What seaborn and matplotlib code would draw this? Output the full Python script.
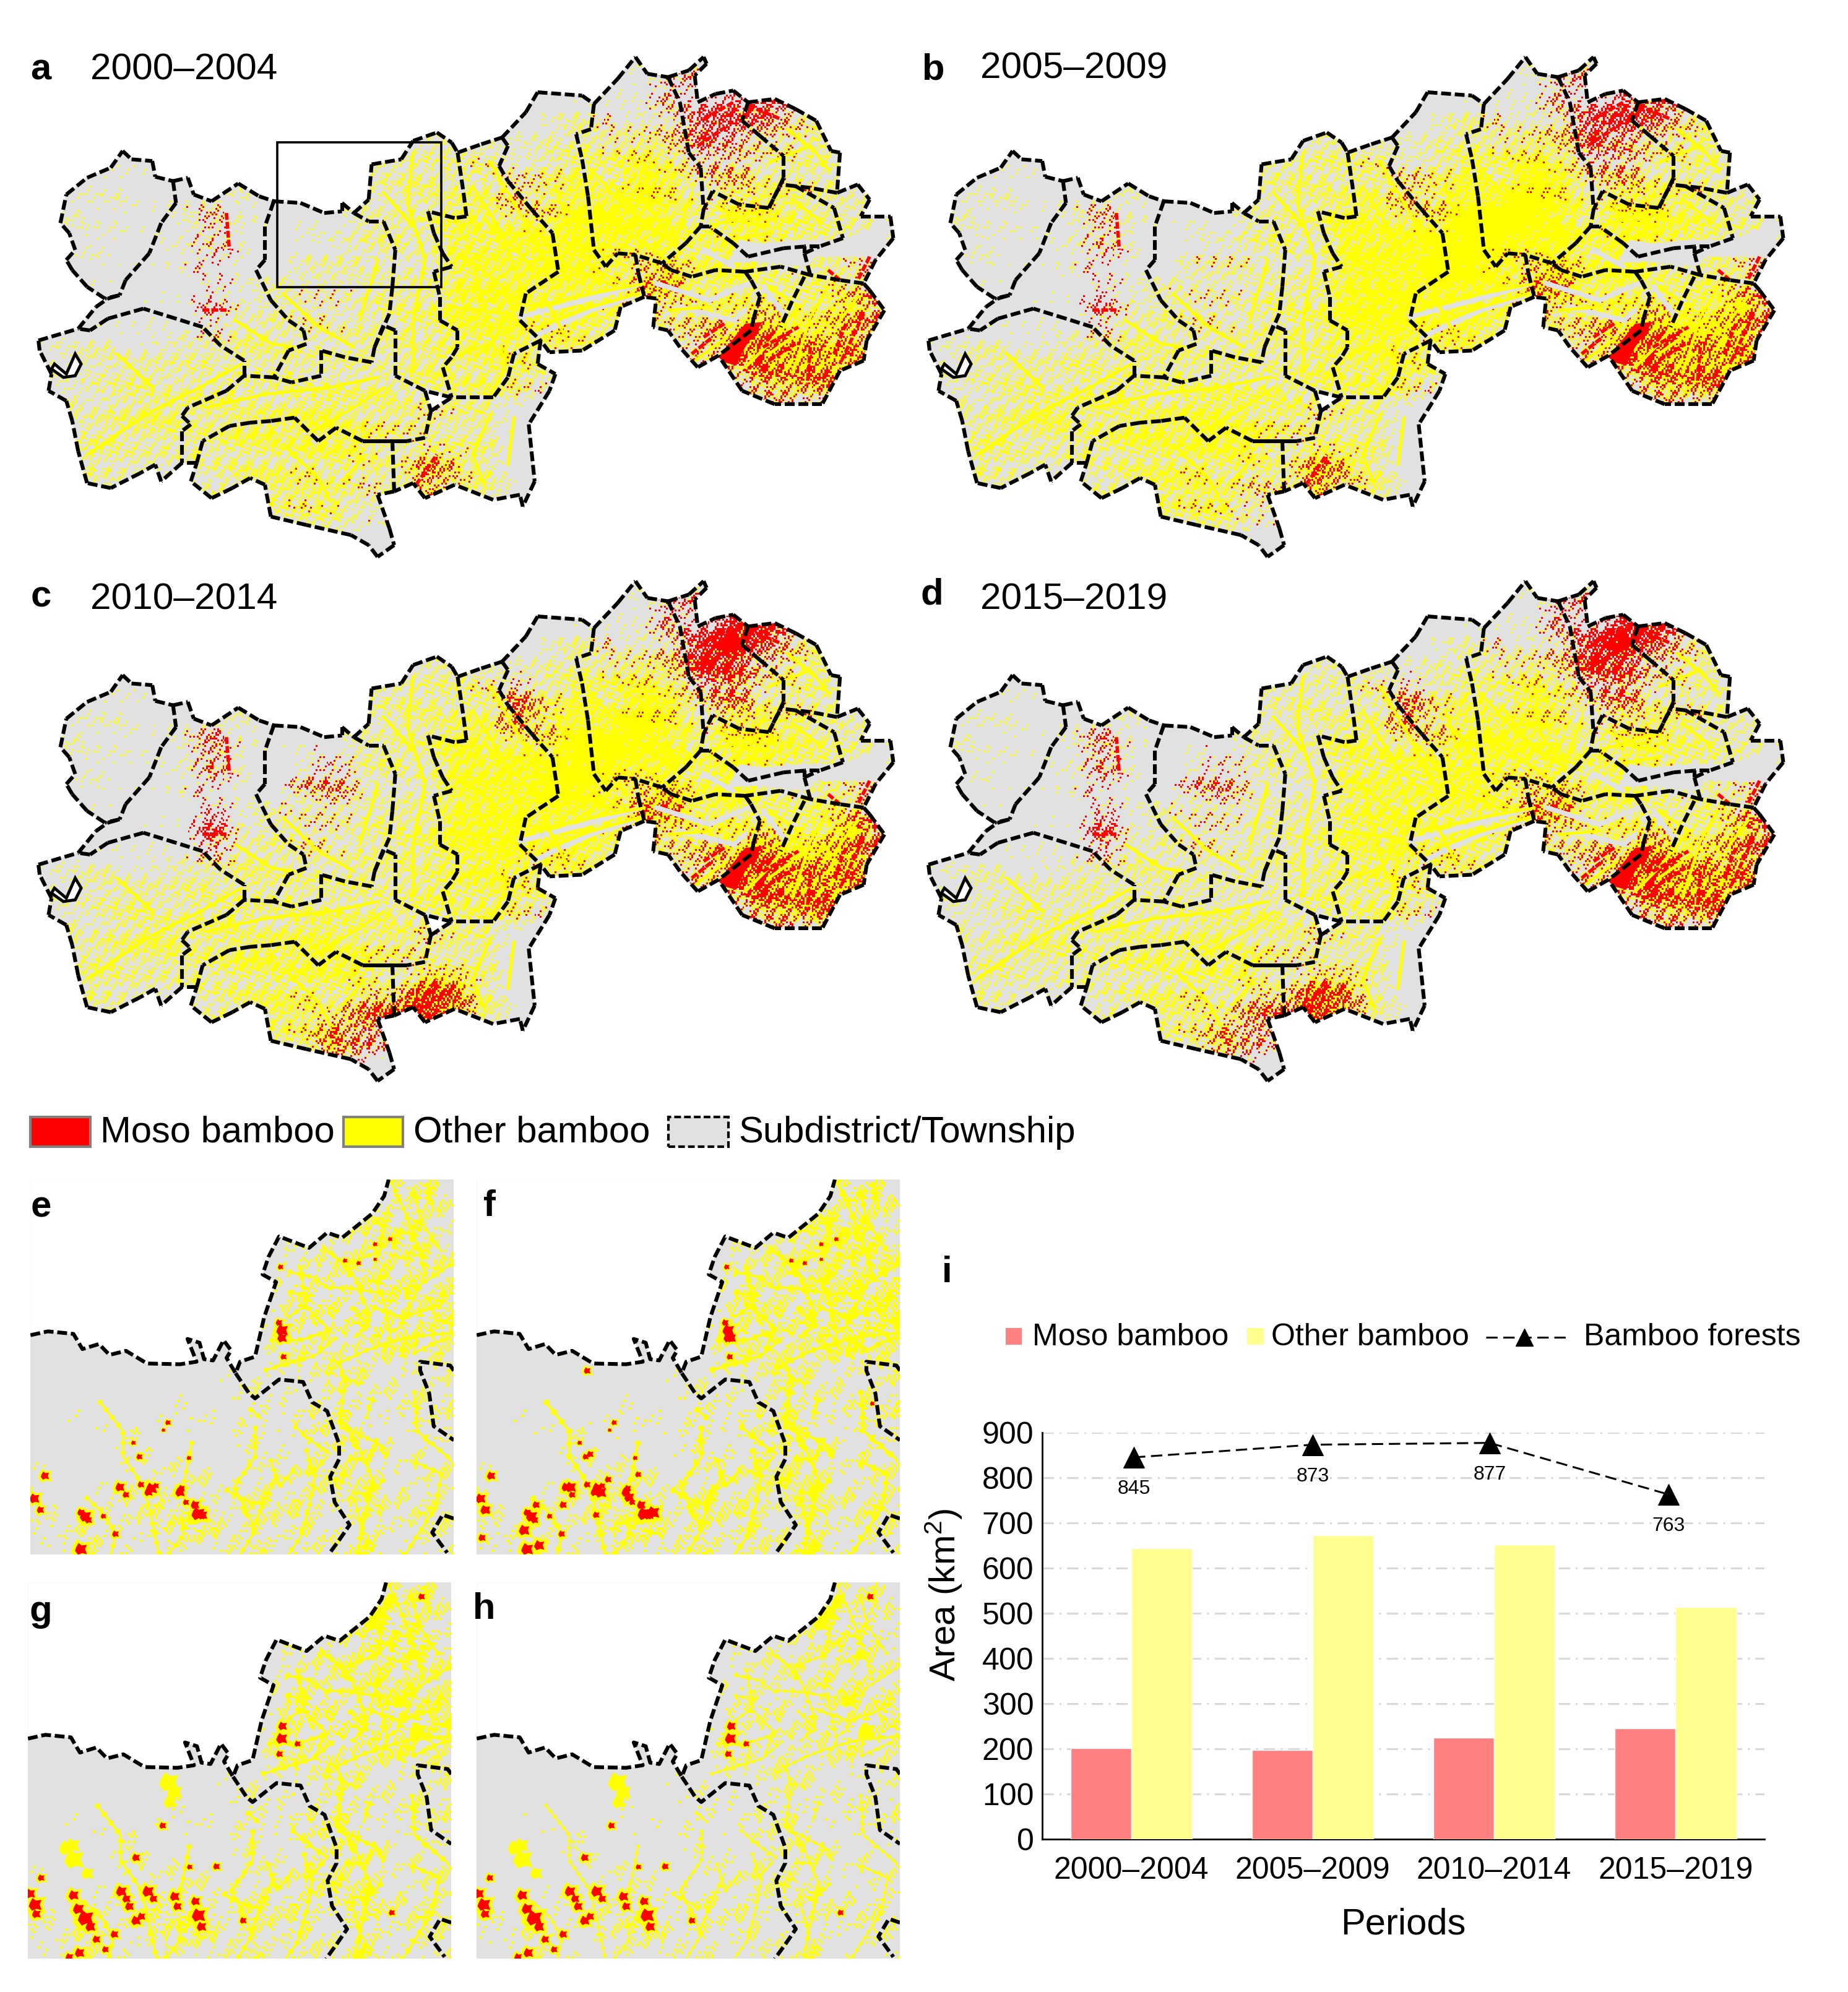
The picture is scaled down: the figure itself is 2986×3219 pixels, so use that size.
import matplotlib
matplotlib.use("Agg")
import matplotlib.pyplot as plt
from matplotlib.patches import Polygon, Rectangle, PathPatch
from matplotlib.path import Path
from matplotlib.lines import Line2D
import numpy as np
import pandas as pd
import seaborn as sns

sns.set_theme(style="white")
plt.rcParams["font.family"] = ["Liberation Sans", "DejaVu Sans"]
plt.rcParams["mathtext.fontset"] = "custom"
plt.rcParams["mathtext.rm"] = "Liberation Sans"

# ---------------- chart data ----------------
PERIODS = ["2000–2004", "2005–2009", "2010–2014", "2015–2019"]
MOSO = [202, 197, 225, 245]
OTHER = [644, 672, 652, 514]
TOTAL = [845, 873, 877, 763]
TOTAL_X = [0.015, 0.0, -0.025, -0.04]
Y_TICKS = [0, 100, 200, 300, 400, 500, 600, 700, 800, 900]

# ---------------- map data (traced map units) ----------------
TOWNSHIPS = [
 [(210,295),(225,320),(260,325),(265,372),(295,385),(300,450),(275,510),(255,600),(215,680),(205,725),(180,735),(150,700),(125,650),(115,620),(130,590),(120,540),(105,510),(115,425),(150,375),(190,345)],
 [(295,385),(320,375),(330,425),(360,445),(405,392),(440,430),(465,445),(450,520),(450,620),(435,650),(460,740),(490,800),(515,830),(520,870),(490,890),(465,970),(415,965),(415,920),(375,875),(345,820),(300,795),(245,765),(185,795),(155,830),(135,825),(165,760),(185,735),(205,725),(215,680),(255,600),(275,510),(300,450)],
 [(68,860),(135,825),(155,830),(185,795),(245,765),(300,795),(345,820),(375,875),(415,920),(415,965),(385,1010),(320,1060),(310,1085),(325,1110),(310,1130),(310,1225),(275,1280),(265,1230),(240,1255),(190,1300),(150,1285),(135,1190),(125,1100),(115,1040),(85,1010),(90,960),(70,890)],
 [(465,445),(510,450),(550,480),(580,475),(580,450),(600,480),(625,505),(650,505),(670,590),(665,700),(660,780),(635,880),(630,925),(585,910),(545,890),(545,965),(495,985),(465,970),(490,890),(520,870),(515,830),(490,800),(460,740),(435,650),(450,620),(450,520)],
 [(740,240),(765,270),(775,300),(785,420),(790,490),(770,495),(725,475),(735,540),(750,600),(765,640),(735,655),(745,730),(745,800),(775,830),(775,880),(765,910),(750,940),(765,1030),(720,1010),(670,965),(670,830),(650,815),(635,880),(660,780),(665,700),(670,590),(650,505),(625,505),(600,480),(625,440),(630,335),(680,320),(700,265)],
 [(775,300),(815,275),(850,255),(860,280),(845,340),(860,385),(900,470),(935,540),(945,655),(890,720),(880,800),(915,860),(870,900),(860,970),(835,1030),(765,1030),(750,940),(765,910),(775,880),(775,830),(745,800),(745,730),(735,655),(765,640),(750,600),(735,540),(725,475),(770,495),(790,490),(785,420)],
 [(415,965),(465,970),(495,985),(545,965),(545,890),(585,910),(630,925),(635,880),(650,815),(670,830),(670,965),(720,1010),(730,1070),(720,1150),(690,1160),(615,1160),(570,1120),(540,1160),(500,1090),(460,1100),(425,1105),(390,1115),(345,1160),(335,1225),(310,1225),(310,1130),(325,1110),(310,1085),(320,1060),(385,1010)],
 [(345,1160),(390,1115),(425,1105),(460,1100),(500,1090),(540,1160),(570,1120),(615,1160),(665,1160),(668,1310),(640,1320),(660,1420),(668,1470),(640,1505),(625,1470),(595,1440),(520,1410),(460,1385),(450,1290),(425,1270),(395,1300),(360,1330),(325,1280),(335,1225)],
 [(720,1150),(730,1070),(765,1030),(835,1030),(860,970),(870,900),(915,860),(910,930),(940,960),(930,1010),(895,1110),(905,1280),(885,1355),(880,1320),(835,1335),(770,1290),(720,1330),(700,1285),(668,1310),(665,1160),(690,1160)],
 [(850,255),(890,180),(910,120),(985,130),(1005,155),(1000,230),(975,245),(985,320),(995,430),(1005,590),(1025,640),(1045,600),(1075,605),(1080,660),(1090,730),(1050,760),(1040,830),(985,890),(930,895),(915,860),(880,800),(890,720),(945,655),(935,540),(900,470),(860,385),(845,340),(860,280)],
 [(1005,155),(1045,80),(1075,15),(1095,65),(1130,75),(1150,150),(1165,300),(1185,345),(1190,470),(1185,520),(1160,570),(1120,630),(1075,605),(1045,600),(1025,640),(1005,590),(995,430),(985,320),(975,245),(1000,230)],
 [(1130,75),(1165,55),(1190,15),(1195,35),(1175,70),(1180,150),(1210,125),(1240,115),(1265,150),(1255,205),(1285,250),(1325,310),(1325,375),(1300,465),(1250,455),(1205,415),(1190,470),(1185,345),(1165,300),(1150,150)],
 [(1265,150),(1310,140),(1345,170),(1380,205),(1405,295),(1420,300),(1415,420),(1370,405),(1345,400),(1320,395),(1325,375),(1325,310),(1285,250),(1255,205)],
 [(1190,470),(1205,415),(1250,455),(1300,465),(1320,395),(1345,400),(1410,465),(1425,555),(1385,580),(1360,580),(1325,585),(1265,610),(1240,570),(1200,520),(1185,520)],
 [(1415,420),(1450,395),(1470,440),(1455,490),(1505,490),(1510,555),(1480,620),(1460,690),(1420,680),(1370,665),(1360,600),(1385,580),(1425,555),(1410,465),(1345,400),(1370,405)],
 [(1185,520),(1200,520),(1240,570),(1265,610),(1325,585),(1360,580),(1360,600),(1370,665),(1320,640),(1260,655),(1210,650),(1170,670),(1135,650),(1120,630),(1160,570)],
 [(1075,605),(1120,630),(1135,650),(1170,670),(1210,650),(1260,655),(1270,680),(1285,730),(1275,790),(1270,830),(1215,905),(1180,940),(1150,880),(1130,830),(1105,820),(1110,735),(1090,730),(1080,660)],
 [(1270,680),(1260,655),(1320,640),(1370,665),(1420,680),(1460,690),(1470,710),(1495,770),(1465,860),(1460,920),(1420,950),(1390,1050),(1310,1050),(1255,1010),(1215,905),(1270,830),(1275,790),(1285,730)],
]
INNER_LINE = [(1360,670),(1340,740),(1320,820)]
LAKE = [(95,930),(115,960),(130,900),(140,930),(130,965),(110,970),(90,945)]
GREY_TOWNSHIP = [(1250,560),(1290,570),(1350,560),(1420,560),(1500,510),(1505,540),(1470,610),(1380,610),(1360,640),(1280,625),(1230,630)]
GREY_RIVERS = [
 [(880,790),(1000,735),(1085,690)],[(900,850),(1000,770),(1070,730)],[(1110,690),(1200,740),(1265,690)],
 [(1190,590),(1240,640)],[(1290,700),(1330,790)],[(1150,760),(1240,800),(1260,770)],
]

# bamboo cover per coarse map cell, 0 (none) to 9 (full); 32 columns, 24 rows
YELLOW_COVER = [
 "00000 00000 00000 00000 01010 00000 00",
 "00000 00000 00000 00000 02220 00000 00",
 "00000 00000 00000 00012 22201 11200 00",
 "00000 00000 00003 21124 34412 35600 00",
 "00000 00000 00005 53246 56623 45640 00",
 "00011 10100 00455 55357 68734 55530 00",
 "00122 10230 00445 66568 79846 76532 00",
 "00222 12330 01455 77679 99858 87543 00",
 "00221 13320 22555 87889 98868 87642 00",
 "00121 12220 33444 88899 87878 66541 00",
 "00110 01113 44344 88898 86878 65652 00",
 "00000 11134 44466 88888 77677 67773 00",
 "00111 11345 44556 88888 66567 78874 00",
 "01233 34455 54556 77777 50456 78873 00",
 "01344 45555 55556 77766 00034 67763 00",
 "01345 55665 66566 66500 00003 56650 00",
 "00346 76667 77665 54000 00000 00000 00",
 "00355 56677 88855 55000 00000 00000 00",
 "00565 44566 66657 75000 00000 00000 00",
 "00442 44467 76556 66000 00000 00000 00",
 "00000 02456 66446 55000 00000 00000 00",
 "00000 00034 55200 00000 00000 00000 00",
 "00000 00000 33000 00000 00000 00000 00",
 "00000 00000 00000 00000 00000 00000 00",
]
RED_COVER = [
 "00000 00000 00000 00000 00000 00000 00",
 "00000 00000 00000 00000 00330 00000 00",
 "00000 00000 00000 00000 00335 78720 00",
 "00000 00000 00000 00000 10267 52000 00",
 "00000 00000 00000 00000 11254 21000 00",
 "00000 00000 00000 01100 01133 11000 00",
 "00000 00000 00000 00320 01113 11000 00",
 "00000 00200 00000 00220 00001 10000 00",
 "00000 00300 00000 00000 00001 10000 00",
 "00000 00300 00000 00000 11100 01011 00",
 "00000 00100 00000 00000 04500 00023 00",
 "00000 00300 11000 00000 04311 11155 00",
 "00000 00300 11000 00011 01123 61244 00",
 "00000 00000 00000 00111 00233 85456 00",
 "00000 00000 00000 00110 00023 75645 00",
 "00000 00000 00000 00100 00002 34550 00",
 "00000 00000 00002 00000 00000 00000 00",
 "00000 00000 00110 00000 00000 00000 00",
 "00000 00000 00104 20000 00000 00000 00",
 "00000 00000 10105 20000 00000 00000 00",
 "00000 00000 10105 00000 00000 00000 00",
 "00000 00000 00000 00000 00000 00000 00",
 "00000 00000 00000 00000 00000 00000 00",
 "00000 00000 00000 00000 00000 00000 00",
]
RED_LATE_COVER = [
 "00000 00000 00000 00000 00000 00000 00",
 "00000 00000 00000 00000 00000 00000 00",
 "00000 00000 00000 00000 00002 20000 00",
 "00000 00000 00000 00000 00013 00000 00",
 "00000 00000 00000 00000 00023 00000 00",
 "00000 00000 00000 00300 00002 00000 00",
 "00000 00000 00000 00300 00000 00000 00",
 "00000 00100 00000 00000 00000 00000 00",
 "00000 00100 01000 00000 00000 00000 00",
 "00000 00000 34000 00000 00000 00000 00",
 "00000 00000 12000 00000 00000 00000 00",
 "00000 00200 00000 00000 00000 00000 00",
 "00000 00100 00000 00000 00000 00000 00",
 "00000 00000 00000 00000 00000 00000 00",
 "00000 00000 00000 00000 00000 00000 00",
 "00000 00000 00000 00000 00000 00000 00",
 "00000 00000 00000 00000 00000 00000 00",
 "00000 00000 00000 00000 00000 00000 00",
 "00000 00000 00001 30000 00000 00000 00",
 "00000 00000 00464 30000 00000 00000 00",
 "00000 00000 04451 20000 00000 00000 00",
 "00000 00000 05300 00000 00000 00000 00",
 "00000 00000 02000 00000 00000 00000 00",
 "00000 00000 00000 00000 00000 00000 00",
]
YELLOW_LEVEL = {"a": 0.9, "b": 1.05, "c": 1.0, "d": 0.8}
RED_LEVEL = {"a": 0.85, "b": 0.9, "c": 1.0, "d": 1.0}
LATE_LEVEL = {"a": 0.0, "b": 0.15, "c": 1.0, "d": 0.85}

STREAKS = [
 [(1000,350),(1060,470),(1130,560)],[(1090,330),(1100,470),(1140,580)],[(1170,420),(1150,520),(1130,590)],
 [(1010,480),(1080,560),(1120,610)],[(1040,400),(1090,520)],[(940,400),(960,520),(1000,640),(1060,700)],
 [(890,500),(960,640),(1040,700)],[(800,400),(850,540),(880,700),(860,830)],[(830,330),(880,480),(920,620)],
 [(780,600),(850,700),(870,780)],[(760,760),(860,780),(885,820)],[(860,830),(850,960),(830,1020)],
 [(780,900),(830,870),(860,790)],[(900,760),(1000,720),(1090,690)],[(910,820),(1000,760),(1080,720)],
 [(1130,770),(1200,760)],[(1230,500),(1300,520)],[(1210,460),(1260,500)],[(1300,330),(1370,280),(1400,350)],
 [(1330,230),(1380,300)],[(1340,440),(1390,510)],[(1300,700),(1350,760),(1300,870),(1260,940)],
 [(1340,850),(1300,900)],[(1400,700),(1370,790),(1340,960)],[(1450,730),(1420,800)],[(1230,850),(1190,900),(1170,930)],
 [(350,1060),(450,1020),(560,1000),(640,970)],[(530,1130),(600,1060),(650,1000)],[(150,1200),(260,1070),(340,1000),(410,930)],
 [(200,900),(260,1000)],[(400,800),(460,870),(500,880)],[(480,720),(540,820),(600,880)],[(640,620),(610,800)],
 [(700,300),(690,450),(720,620),(700,800),(700,950)],[(650,420),(700,520)],[(480,1170),(540,1270),(560,1340)],
 [(620,1200),(580,1280)],[(830,1080),(800,1200),(820,1290)],[(870,1090),(860,1230)],[(1050,440),(1120,440)],
 [(950,450),(1000,560)],[(820,500),(900,640)],[(1060,500),(1130,500)],[(1000,590),(1060,640)],[(800,620),(840,900)],
 [(930,760),(960,860)],[(1200,520),(1290,470)],[(1230,560),(1300,540)],
]
RED_SOLID = [
 [(1215,910),(1260,810),(1290,805),(1260,880),(1245,935),(1225,925)],
]
RED_STROKES = [
 [(1290,880),(1350,820)],[(1300,920),(1345,870)],[(1370,880),(1365,990)],[(1430,810),(1410,900)],[(1460,780),(1420,930)],
 [(1190,850),(1225,810)],[(1170,900),(1205,850)],[(1400,650),(1420,680)],[(1470,610),(1450,680)],[(1265,160),(1320,200)],
 [(705,1290),(740,1200)],[(385,480),(390,590)],[(345,770),(385,770)],[(1190,200),(1240,150)],[(1180,280),(1230,220)],
]

# inset data (traced inset units)
COAST = [(102,630),(160,615),(245,625),(275,685),(330,665),(365,708),(420,692),(490,742),(600,745),(655,735),(625,645),(665,660),(680,725),(710,730),(745,650),(770,690),(755,720),(785,780),(800,735),(850,715),(880,560),(920,420),(875,390),(895,320),(930,240),(1030,285),(1090,225),(1140,245),(1240,150),(1280,80),(1295,15)]
BORDERS = [
 [(785,780),(830,860),(850,880),(930,805),(1010,815),(1040,895),(1090,930),(1130,1060),(1130,1120),(1100,1190),(1115,1290),(1165,1380),(1130,1440),(1095,1497)],
 [(1512,770),(1500,750),(1400,735),(1400,770),(1430,860),(1445,990),(1512,1045)],
 [(1512,1355),(1475,1340),(1440,1410),(1490,1490)],
]
INSET_COVER = [
 "0000000000000342",
 "0000000000002453",
 "0000000000245543",
 "0000000002356654",
 "0000000003435655",
 "0000000003534546",
 "0000000005443666",
 "0000000005454535",
 "0000000122253224",
 "0010010131242233",
 "0010211032443232",
 "0101221131354232",
 "2001223133455233",
 "2122343253436244",
 "2133345252425233",
 "2242232252436233",
]
INSET_LEVEL = {"e": 0.95, "f": 1.2, "g": 1.05, "h": 0.7}
INSET_STREAKS = [
 [(1100,300),(1180,400),(1220,520),(1230,600)],[(1300,20),(1340,120),(1380,240),(1420,400)],[(1500,350),(1400,430),(1330,600),(1300,620)],
 [(1100,440),(1200,450),(1300,470)],[(1000,360),(1020,510),(960,560)],[(960,460),(1000,470)],[(1420,30),(1440,120)],
 [(1510,620),(1350,640),(1220,690),(1130,740),(1150,820),(1130,960),(1190,1060),(1240,1200),(1215,1350),(1190,1497)],
 [(1430,480),(1450,560)],[(1270,450),(1300,640),(1270,700)],[(880,770),(1050,710),(1120,640)],[(900,650),(1000,650),(1100,610)],
 [(330,890),(410,1010),(410,1110),(480,1230),(530,1497)],[(640,1050),(615,1200),(600,1250)],[(850,990),(850,1110),(780,1230),(850,1400),(800,1497)],
 [(830,920),(870,960)],[(980,990),(1040,1050),(1100,1100)],[(920,1180),(880,1280),(840,1400)],[(1050,1180),(1030,1310),(1000,1430),(960,1497)],
 [(1380,850),(1390,1010),(1500,1120)],[(1380,1130),(1470,1180),(1450,1310),(1350,1497)],[(1240,880),(1220,960)],[(560,1497),(610,1420),(600,1340)],
 [(285,1270),(350,1340),(385,1420),(370,1497)],[(750,1240),(850,1300)],[(1250,1040),(1290,1110)],[(1160,1120),(1230,1120)],
 [(1080,290),(1150,350),(1260,300),(1340,210)],[(1200,120),(1280,200),(1260,320)],[(1380,60),(1400,180),(1470,300)],[(1020,520),(1090,600),(1060,700)],
 [(1240,520),(1340,560),(1440,520)],[(960,380),(1040,400),(1100,450)],[(1170,520),(1230,590),(1180,640)],[(1390,620),(1380,700),(1490,640)],
 [(1160,1000),(1260,1060),(1230,1110)],[(1280,1200),(1230,1260)],[(1180,1280),(1210,1420)],[(1020,1080),(1040,1180),(1090,1110)],[(900,1120),(930,1230),(980,1160)],
]
E_RED_X = [560,445,465,150,115,135,285,400,505,600,660,940,935,945,270,345,385,630,1300,1150,1195,1250,1250,545,620,420,470,495,520,605,650,675,270,295,940,930]
E_RED_Y = [975,1055,1110,1185,1275,1320,1345,1230,1235,1250,1335,610,360,715,1475,1345,1415,1115,250,335,345,330,270,1005,1290,1260,1220,1250,1225,1235,1300,1340,1330,1360,640,580]
E_RED_S = [ 40, 30, 50, 90, 130, 70, 170, 110, 170, 120, 230, 180, 40, 50, 190, 40, 60, 30, 30, 30, 30, 20, 30, 20, 50, 60, 60, 90, 50, 60,100,120, 70, 70,120, 60]
F_RED_X = [470,950,415,515,610,690,130,260,310,480,1420,390,540,500,640,120,300]
F_RED_Y = [770,640,1230,1250,1270,1330,1320,1400,1460,1100,900,1300,1200,1340,1180,1430,1300]
F_RED_S = [ 60,120, 150, 170, 130, 200, 120, 150, 140, 60,  30, 70, 60, 60, 50, 70, 70]
G_RED_X = [126,294,254,413,502,462,551,670,591,462,819,1314,730,947,146,274,641,1413,330,440,110,130,270,310,390,430,520,480,600,660,680,360,240,950,940,1000]
G_RED_Y = [1283,1336,1246,1231,1231,1098,972,1325,1251,1346,1346,1315,1133,629,1178,1473,1135,70,1420,1290,1240,1320,1300,1370,1400,1260,1260,1330,1290,1270,1370,1460,1490,580,690,650]
G_RED_S = [ 220,320,130,150,170,80, 60,240,120,120, 60, 50, 60,160, 60,120, 40, 60, 80,100,120,100,160,130, 80, 90, 80, 80, 90,100,120, 60, 80,100, 60, 50]
G_YEL_X = [571,575,255,250,1274,1250,1310,1340,1380,1400,300,590,230,1300,1250]
G_YEL_Y = [800,880,1104,1050,133,180,80,480,300,600,1160,840,1060,100,160]
G_YEL_S = [ 500,220,500,280,400,240,200,300,200,400,200,300,300,200,200]

# ---------------- layout helpers ----------------
W, H = 2986, 3219
SC = 2.054
fig = plt.figure(figsize=(W / 100, H / 100), dpi=100, facecolor="white")
GREY = "#e1e1e1"
DASH = (0, (2.6, 1.0))
BLOB = [(-1,-.3),(-.5,-1),(.2,-.7),(1,-.9),(.7,0),(1,.7),(.1,.6),(-.4,1),(-.8,.3)]

def fx(d):
    return d * SC / W

def fy(d):
    return 1 - d * SC / H

def axes_px(left, top, width, height):
    return fig.add_axes([left / W, 1 - (top + height) / H, width / W, height / H])

def cover(rows):
    return np.array([[int(c) for c in r.replace(" ", "")] for r in rows], dtype=float) / 9

def upsample(grid, rows, cols):
    gy = np.linspace(0, grid.shape[0] - 1, rows)
    gx = np.linspace(0, grid.shape[1] - 1, cols)
    by_col = np.array([np.interp(gy, np.arange(grid.shape[0]), grid[:, c]) for c in range(grid.shape[1])])
    return np.array([np.interp(gx, np.arange(grid.shape[1]), by_col[:, r]) for r in range(rows)])

def gradient_pattern(xx, yy):
    return (52.9829189 * ((0.06711056 * xx + 0.00583715 * yy) % 1)) % 1

def threshold(rows, cols, u_size, v_size):
    """Ordered-dither thresholds: a fine pattern mixed with elongated blocks, so cells clump."""
    yy, xx = np.mgrid[0:rows, 0:cols]
    fine = gradient_pattern(xx, yy)
    coarse = gradient_pattern(np.floor((xx + 0.7 * yy) / u_size), np.floor((xx - 0.7 * yy) / v_size))
    t = 0.5 * fine + 0.5 * coarse
    return np.where(t < 0.5, 2 * t ** 2, 1 - 2 * (1 - t) ** 2)

def speckle(yellow, red, u_size=3, v_size=8):
    t = threshold(*yellow.shape, u_size, v_size)
    img = np.zeros(yellow.shape + (4,))
    img[t < np.clip(red + yellow, 0, 1)] = (1, 1, 0, 1)
    img[t < np.clip(red, 0, 1)] = (1, 0, 0, 1)
    return img

TOWN_PATH = Path.make_compound_path(*[Path(list(t) + [t[0]], closed=True) for t in TOWNSHIPS])

def draw_map(left, top, key):
    ax = axes_px(left, top, 1502, 850)
    ax.axis("off")
    ax.patch.set_alpha(0)
    clip = PathPatch(TOWN_PATH, transform=ax.transData, fc="none", ec="none")
    for t in TOWNSHIPS:
        ax.add_patch(Polygon(t, closed=True, fc=GREY, ec=GREY, lw=1, zorder=1))
    rows, cols = 282, 520
    yel = upsample(cover(YELLOW_COVER), rows, cols) ** 1.8 * YELLOW_LEVEL[key]
    red = upsample(cover(RED_COVER) * RED_LEVEL[key] + cover(RED_LATE_COVER) * LATE_LEVEL[key], rows, cols) ** 1.3
    im = ax.imshow(speckle(yel, red), extent=(0, 1600, 1560, 0), aspect="auto", interpolation="nearest", zorder=2)
    im.set_clip_path(clip)
    ax.add_patch(Polygon(GREY_TOWNSHIP, closed=True, fc=GREY, ec="none", zorder=2.5))
    for s in GREY_RIVERS:
        xs, ys = zip(*s)
        ax.plot(xs, ys, color=GREY, lw=6, zorder=2.6)
    for s in STREAKS:
        xs, ys = zip(*s)
        line, = ax.plot(xs, ys, color="#ffff00", lw=3.6, zorder=3)
        line.set_clip_path(clip)
    for s in RED_STROKES:
        xs, ys = zip(*s)
        line, = ax.plot(xs, ys, color="#ff0000", lw=4, ls=(0, (2.0, 0.6)), zorder=3.5)
        line.set_clip_path(clip)
    for r in RED_SOLID:
        ax.add_patch(Polygon(r, closed=True, fc="#ff0000", ec="none", zorder=4))
    seen = set()
    for t in TOWNSHIPS:
        for p, q in zip(t, t[1:] + t[:1]):
            k = frozenset((p, q))
            if k in seen:
                continue
            seen.add(k)
            ax.plot([p[0], q[0]], [p[1], q[1]], color="black", lw=4.4, ls=DASH, zorder=5)
    xs, ys = zip(*INNER_LINE)
    ax.plot(xs, ys, color="black", lw=4.4, ls=DASH, zorder=5)
    ax.add_patch(Polygon(LAKE, closed=True, fc="white", ec="black", lw=3.5, zorder=6))
    ax.set_xlim(0, 1568)
    ax.set_ylim(1568, 0)

def draw_inset(l, t, r, b, key):
    ax = axes_px(l * SC, t * SC, (r - l) * SC, (b - t) * SC)
    ax.set_facecolor(GREY)
    for sp in ax.spines.values():
        sp.set_visible(False)
    level = INSET_LEVEL[key]
    rows, cols = 150, 170
    yel = upsample(cover(INSET_COVER), rows, cols) ** 1.6 * level
    ax.imshow(speckle(yel, np.zeros_like(yel), 5, 9), extent=(102, 1512, 1497, 15), aspect="auto", interpolation="nearest", zorder=1)
    for s in INSET_STREAKS:
        xs, ys = zip(*s)
        ax.plot(xs, ys, color="#ffff00", lw=2.4 * level, zorder=2)
        ax.plot(xs, ys, color="#ffff00", lw=6 * level, ls=(0, (0.6, 1.4)), zorder=2)
    if key in ("g", "h"):
        rx, ry, rs = G_RED_X, G_RED_Y, G_RED_S
        ax.scatter(G_YEL_X, G_YEL_Y, s=G_YEL_S, color="#ffff00", marker=BLOB, lw=0, zorder=2)
    elif key == "f":
        rx, ry, rs = E_RED_X + F_RED_X, E_RED_Y + F_RED_Y, E_RED_S + F_RED_S
    else:
        rx, ry, rs = E_RED_X, E_RED_Y, E_RED_S
    ax.scatter(rx, ry, s=[v * 3 for v in rs], color="#ffff00", marker=BLOB[::-1], lw=0, zorder=2.5)
    ax.scatter(rx, ry, s=rs, color="#ff0000", marker=BLOB, lw=0, zorder=3)
    ax.add_patch(Polygon([(102, 15)] + COAST, closed=True, fc="white", ec="none", zorder=4))
    for seq in [COAST] + BORDERS:
        xs, ys = zip(*seq)
        ax.plot(xs, ys, color="black", lw=4.4, ls=DASH, zorder=5)
    ax.set_xlim(102, 1512)
    ax.set_ylim(1497, 15)
    ax.set_xticks([])
    ax.set_yticks([])

# ---------------- panels a-d ----------------
draw_map(-3, 84, "a")
draw_map(1435, 84, "b")
draw_map(-3, 931, "c")
draw_map(1435, 931, "d")
fig.add_artist(Rectangle((fx(218), fy(226)), 129 * SC / W, 114 * SC / H, transform=fig.transFigure,
                         fc="none", ec="black", lw=2.6, zorder=10))

for letter, x, y in [("a", 24, 55), ("b", 725, 55), ("c", 24, 470), ("d", 724, 468), ("e", 24, 950),
                     ("f", 380, 949), ("g", 23, 1268), ("h", 372, 1266), ("i", 741, 1001)]:
    fig.text(fx(x), fy(y), letter, fontsize=43, fontweight="bold", ha="left", va="center", color="black", zorder=11)
for title, x, y in [("2000–2004", 71, 55), ("2005–2009", 771, 54), ("2010–2014", 71, 472), ("2015–2019", 771, 472)]:
    fig.text(fx(x), fy(y), title, fontsize=43.5, ha="left", va="center", color="black", zorder=11)

# map legend
for x, fc, ec, ls, lab, tx in [(24, "#ff0000", "#808080", "-", "Moso bamboo", 79),
                               (270, "#ffff00", "#808080", "-", "Other bamboo", 325),
                               (526, GREY, "black", (0, (2.6, 1.2)), "Subdistrict/Township", 581)]:
    fig.add_artist(Rectangle((fx(x), fy(902)), 47 * SC / W, 23 * SC / H, transform=fig.transFigure,
                             fc=fc, ec=ec, lw=3, ls=ls))
    fig.text(fx(tx), fy(891), lab, fontsize=43, ha="left", va="center", color="black")

# ---------------- insets e-h ----------------
draw_inset(24, 928, 357, 1223, "e")
draw_inset(375, 928, 708, 1223, "f")
draw_inset(22, 1245, 355, 1541, "g")
draw_inset(375, 1245, 708, 1541, "h")

# ---------------- panel i ----------------
ax = axes_px(820 * SC, 1127 * SC, 568 * SC, 320 * SC)
df = pd.DataFrame({
    "Period": PERIODS * 2,
    "Type": ["Moso bamboo"] * 4 + ["Other bamboo"] * 4,
    "Area": MOSO + OTHER,
})
sns.barplot(data=df, x="Period", y="Area", hue="Type", order=PERIODS, ax=ax, width=0.67, gap=0, saturation=1,
            palette={"Moso bamboo": "#ff8080", "Other bamboo": "#ffff90"}, legend=False, zorder=3)
line_df = pd.DataFrame({"x": TOTAL_X, "Total": TOTAL})
line_df["x"] = line_df["x"] + line_df.index
sns.lineplot(data=line_df, x="x", y="Total", ax=ax, color="black", lw=2.2, ls=(0, (6, 3)), marker="^",
             markersize=24, markeredgecolor="black", zorder=5, legend=False)
for xv, v in zip(line_df["x"], TOTAL):
    ax.annotate(str(v), (xv, v), xytext=(0, -37), textcoords="offset points", ha="center", va="center", fontsize=23, color="black")
ax.set_xlim(-0.49, 3.49)
ax.set_ylim(0, 900)
ax.set_xticks(range(4))
ax.set_xticklabels(PERIODS)
ax.set_yticks(Y_TICKS)
ax.set_yticklabels([str(t) for t in Y_TICKS])
ax.yaxis.grid(True, color="#d9d9d9", lw=2.2, ls=(0, (6, 3, 1, 3)), zorder=0)
ax.xaxis.grid(False)
ax.set_axisbelow(True)
for s in ["top", "right"]:
    ax.spines[s].set_visible(False)
for s in ["left", "bottom"]:
    ax.spines[s].set_visible(True)
    ax.spines[s].set_color("black")
    ax.spines[s].set_linewidth(2)
ax.tick_params(axis="x", labelsize=36, length=0, pad=20, colors="black")
ax.tick_params(axis="y", labelsize=36, length=0, pad=10, colors="black")
ax.set_xlabel("Periods", fontsize=43, labelpad=26, color="black")
ax.set_ylabel(r"Area (km$\mathregular{^2}$)", fontsize=42, color="black")
ax.yaxis.set_label_coords(-0.108, 0.6)

# chart legend
fig.add_artist(Rectangle((fx(791), fy(1058)), 13 * SC / W, 13 * SC / H, transform=fig.transFigure, fc="#ff8080", ec="none"))
fig.text(fx(812), fy(1052), "Moso bamboo", fontsize=36, ha="left", va="center", color="black")
fig.add_artist(Rectangle((fx(981), fy(1058)), 13 * SC / W, 13 * SC / H, transform=fig.transFigure, fc="#ffff90", ec="none"))
fig.text(fx(1000), fy(1052), "Other bamboo", fontsize=36, ha="left", va="center", color="black")
fig.add_artist(Line2D([fx(1169), fx(1233)], [fy(1052), fy(1052)], transform=fig.transFigure, color="black", lw=2.2, ls=(0, (6, 3))))
fig.add_artist(Line2D([fx(1199)], [fy(1052)], transform=fig.transFigure, color="black", marker="^", markersize=20, lw=0))
fig.text(fx(1246), fy(1052), "Bamboo forests", fontsize=36, ha="left", va="center", color="black")

fig.savefig("out.png", dpi=100, facecolor="white")
